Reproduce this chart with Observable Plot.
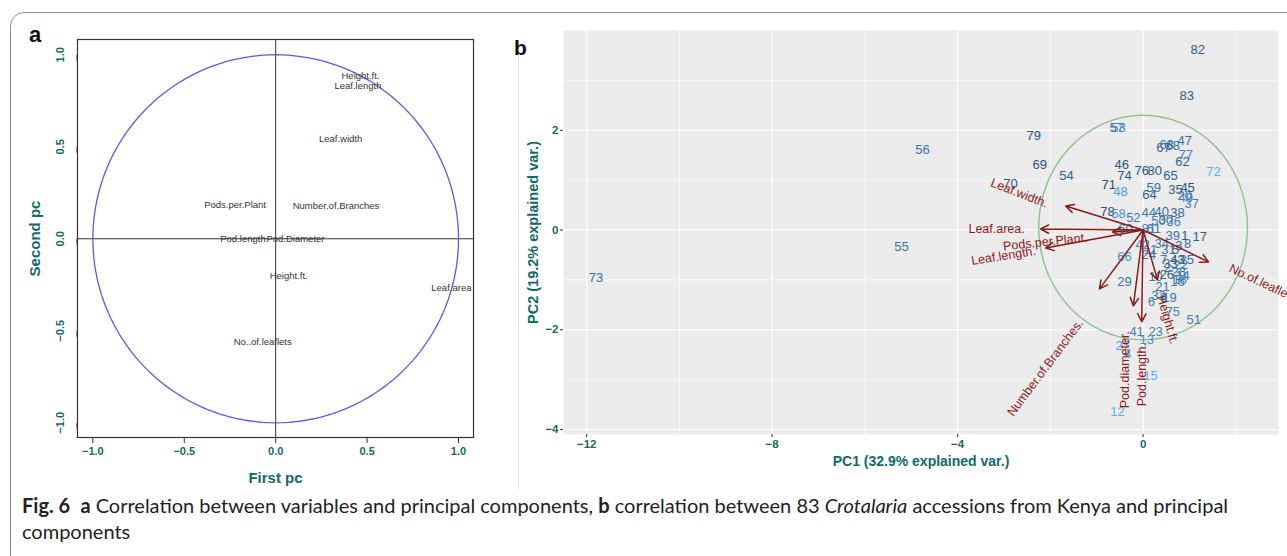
<!DOCTYPE html>
<html><head><meta charset="utf-8">
<script src="https://cdn.jsdelivr.net/npm/d3@7"></script>
<script src="https://cdn.jsdelivr.net/npm/@observablehq/plot@0.6"></script>
<style>
html,body{margin:0;padding:0;background:#fff;}
body{width:1287px;height:556px;overflow:hidden;position:relative;font-family:"Liberation Sans",Arial,sans-serif;}
#border{position:absolute;left:10px;top:12px;width:1400px;height:700px;border:1.5px solid #8c8c8c;border-radius:14px;box-sizing:border-box;}
#pa{position:absolute;left:0;top:0;}
#pb{position:absolute;left:500px;top:0;}
.tag{position:absolute;font-weight:bold;color:#111;line-height:1;}
#caption{position:absolute;left:22px;top:494px;color:#222;font-family:"Lato","Noto Sans",sans-serif;white-space:nowrap;}
#caption div{height:26px;line-height:22px;}
#sep{position:absolute;left:518px;top:40px;width:1px;height:450px;background:#e3e9e9;}
</style></head><body>
<div id="border"></div>
<div id="sep"></div>
<div id="pa"></div>
<div id="pb"></div>
<div class="tag" style="left:29px;top:24px;font-size:22px;">a</div>
<div class="tag" style="left:514px;top:37px;font-size:21px;">b</div>
<div id="caption"><div><span id="l1"><b>Fig. 6</b>&nbsp;&nbsp;<b>a</b> Correlation between variables and principal components, <b>b</b> correlation between 83 <i>Crotalaria</i> accessions from Kenya and principal</span></div><div>components</div></div>
<script>
// ---------- Panel a: correlation circle ----------
const corrVars = ["Height.ft.","Leaf.length","Leaf.width","Pods.per.Plant","Number.of.Branches","Pod.length","Pod.Diameter","Height.ft.","Leaf.area","No..of.leaflets"];
const corrPC1 = [0.464,0.450,0.355,-0.222,0.330,-0.179,0.108,0.071,0.961,-0.071];
const corrPC2 = [0.884,0.833,0.545,0.183,0.178,0.000,0.000,-0.201,-0.266,-0.562];
const corrTicks = [-1,-0.5,0,0.5,1];

// ---------- Panel b: biplot ----------
const accLabels = ["82","83","56","55","73","79","69","54","70","57","53","46","74","76","80","65","71","48","59","64","35","45","20","37","67","63","68","47","77","62","72","78","58","52","44","40","38","50","36","60","81","39","1","17","42","34","3","8","24","66","7","43","25","2","29","10","26","28","14","16","21","6","32","19","75","51","41","23","13","27","15","12","4","11","18","30","31","33","49","61","9","5","22"];
const accPC1 = [1.18,0.94,-4.76,-5.21,-11.80,-2.36,-2.23,-1.65,-2.86,-0.57,-0.53,-0.46,-0.40,-0.03,0.25,0.59,-0.74,-0.49,0.23,0.14,0.70,0.96,0.90,1.05,0.44,0.51,0.64,0.90,0.92,0.85,1.52,-0.77,-0.53,-0.21,0.12,0.40,0.74,0.33,0.66,-0.38,0.12,0.64,0.90,1.22,-0.01,0.40,0.77,0.96,0.12,-0.40,0.44,0.74,0.94,0.53,-0.40,0.27,0.51,0.77,0.85,0.74,0.42,0.18,0.33,0.57,0.64,1.09,-0.14,0.27,0.08,-0.44,0.16,-0.55,-0.33,0.16,0.79,0.49,0.55,0.59,0.92,0.23,0.44,0.70,0.81];
const accPC2 = [3.62,2.70,1.60,-0.34,-0.96,1.88,1.30,1.08,0.92,2.04,2.04,1.30,1.08,1.18,1.18,1.08,0.90,0.76,0.84,0.70,0.80,0.84,0.68,0.52,1.64,1.70,1.68,1.78,1.50,1.36,1.16,0.36,0.32,0.24,0.34,0.36,0.34,0.18,0.16,0.02,0.02,-0.12,-0.12,-0.14,-0.30,-0.28,-0.32,-0.28,-0.50,-0.54,-0.60,-0.60,-0.60,-0.76,-1.04,-0.94,-0.90,-0.84,-0.92,-1.04,-1.14,-1.44,-1.32,-1.36,-1.64,-1.80,-2.04,-2.04,-2.20,-2.32,-2.92,-3.64,-2.48,-0.40,-1.00,0.20,-0.40,-0.68,0.64,0.02,-1.36,-0.40,-0.70];
const accShade = [0.35,0.35,0.5,0.5,0.45,0.25,0.25,0.35,0.3,0.55,0.6,0.25,0.3,0.25,0.3,0.35,0.2,0.85,0.5,0.35,0.35,0.25,0.5,0.65,0.4,0.5,0.45,0.45,0.6,0.35,1.0,0.25,0.75,0.55,0.55,0.45,0.4,0.6,0.6,0.5,0.6,0.55,0.3,0.35,0.65,0.55,0.4,0.5,0.5,0.75,0.5,0.15,0.45,0.5,0.5,0.5,0.4,0.45,0.55,0.6,0.55,0.6,0.55,0.5,0.65,0.6,0.6,0.6,0.75,0.85,1.0,1.0,0.9,0.5,0.6,0.5,0.5,0.4,0.6,0.55,0.5,0.4,0.6];

const varNames = ["Leaf.width.","Leaf.area.","Leaf.length.","Pods.per.Plant.","No.of.leaflets.","Number.of.Branches.","Pod.diameter.","Pod.length.","Height.ft."];
const varPC1 = [-1.67,-2.21,-2.10,-0.66,1.41,-0.94,-0.21,-0.03,0.31];
const varPC2 = [0.48,0.02,-0.36,-0.04,-0.64,-1.18,-1.52,-1.84,-1.00];
const varLabelPC1 = [-2.67,-3.16,-3.01,-2.11,2.62,-2.11,-0.40,-0.03,0.53];
const varLabelPC2 = [0.74,0.02,-0.52,-0.24,-1.08,-2.76,-2.80,-2.90,-1.80];
const varLabelAngle = [21,0,-9,-6,25,-53,-90,-90,74];

const pcXTicks = [-12,-8,-4,0];
const pcXMinor = [-10,-6,-2,2];
const pcYTicks = [-4,-2,0,2];
const pcYMinor = [-3,-1,1,3];
const ellipseCenter = [0, 0.05];
const ellipseRadius = 2.25;

const teal = "#106a67";
const darkred = "#8B1A1A";

// build tables
const corrData = corrVars.map((n,i)=>({name:n, pc1:corrPC1[i], pc2:corrPC2[i]}));
const unitCircle = d3.range(0, 361, 2).map(a => ({x: Math.cos(a*Math.PI/180), y: Math.sin(a*Math.PI/180)}));
const accData = accLabels.map((l,i)=>({label:l, pc1:accPC1[i], pc2:accPC2[i], shade:accShade[i]}));
const varData = varNames.map((n,i)=>({name:n, x:varPC1[i], y:varPC2[i], lx:varLabelPC1[i], ly:varLabelPC2[i], angle:varLabelAngle[i]}));
const ring = d3.range(0, 361, 2).map(a => ({x: ellipseCenter[0] + ellipseRadius*Math.cos(a*Math.PI/180), y: ellipseCenter[1] + ellipseRadius*Math.sin(a*Math.PI/180)}));

const pa = Plot.plot({
  width: 520, height: 490,
  marginLeft: 77, marginTop: 39, marginRight: 47, marginBottom: 53,
  x: {domain: [-1.084, 1.082]},
  y: {domain: [-1.08, 1.083]},
  style: {fontFamily: "'Liberation Sans', Arial, sans-serif", background: "transparent", overflow: "visible"},
  marks: [
    Plot.ruleX([0], {stroke: "#333", strokeWidth: 1}),
    Plot.ruleY([0], {stroke: "#333", strokeWidth: 1}),
    Plot.line(unitCircle, {x: "x", y: "y", stroke: "#5a5af0", strokeWidth: 1.3}),
    Plot.text(corrData, {x: "pc1", y: "pc2", text: "name", fontSize: 9.5, fill: "#333"}),
    Plot.frame({stroke: "#333", strokeWidth: 1.2}),
    Plot.axisX({ticks: corrTicks, tickFormat: d3.format(".1f"), tickSize: 6, tickPadding: 4, fontSize: 11, fontWeight: "bold", fill: teal, stroke: "#333", label: null}),
    Plot.axisY({ticks: corrTicks, tickFormat: d3.format(".1f"), tickSize: 6, tickPadding: 11, fontSize: 11, fontWeight: "bold", fill: teal, stroke: "#333", rotate: -90, textAnchor: "middle", label: null}),
    Plot.text(["Second pc"], {frameAnchor: "left", dx: -42, rotate: -90, textAnchor: "middle", lineAnchor: "middle", fontSize: 15, fontWeight: "bold", fill: teal}),
    Plot.text(["First pc"], {frameAnchor: "bottom", dy: 41, lineAnchor: "middle", fontSize: 15, fontWeight: "bold", fill: teal})
  ]
});
document.getElementById("pa").appendChild(pa);

const pb = Plot.plot({
  width: 787, height: 490,
  marginLeft: 63, marginRight: 9, marginTop: 30, marginBottom: 56,
  x: {domain: [-12.5, 2.92]},
  y: {domain: [-4.1, 4.0]},
  color: {type: "linear", domain: [0, 1], range: ["#1b3452", "#56B1F7"]},
  style: {fontFamily: "'Liberation Sans', Arial, sans-serif", background: "transparent", overflow: "visible"},
  marks: [
    Plot.frame({fill: "#ebebeb", stroke: null}),
    Plot.ruleX(pcXMinor, {stroke: "#fff", strokeWidth: 0.6}),
    Plot.ruleY(pcYMinor, {stroke: "#fff", strokeWidth: 0.6}),
    Plot.ruleX(pcXTicks, {stroke: "#fff", strokeWidth: 1.2}),
    Plot.ruleY(pcYTicks, {stroke: "#fff", strokeWidth: 1.2}),
    Plot.line(ring, {x: "x", y: "y", stroke: "#8fbf8f", strokeWidth: 1.4}),
    Plot.text(accData, {x: "pc1", y: "pc2", text: "label", fill: "shade", fontSize: 13}),
    Plot.arrow(varData, {x1: () => 0, y1: () => 0, x2: "x", y2: "y", stroke: darkred, strokeWidth: 1.5, headLength: 9, headAngle: 55}),
    Plot.text(varData, {x: "lx", y: "ly", text: "name", rotate: "angle", fill: darkred, fontSize: 12.5}),
    Plot.axisX({ticks: pcXTicks, tickSize: 3, tickPadding: 2, fontSize: 11.5, fontWeight: "bold", fill: teal, stroke: "#333", label: null}),
    Plot.axisY({ticks: pcYTicks, tickSize: 3, tickPadding: 2, fontSize: 11.5, fontWeight: "bold", fill: teal, stroke: "#333", label: null}),
    Plot.text(["PC1 (32.9% explained var.)"], {frameAnchor: "bottom", dy: 27, lineAnchor: "middle", fontSize: 14, fontWeight: "bold", fill: teal}),
    Plot.text(["PC2 (19.2% explained var.)"], {frameAnchor: "left", dx: -30, rotate: -90, textAnchor: "middle", lineAnchor: "middle", fontSize: 14.5, fontWeight: "bold", fill: teal})
  ]
});
document.getElementById("pb").appendChild(pb);

// fit caption line width
const cap = document.getElementById("caption");
let fs = 16; cap.style.fontSize = fs + "px";
const w = document.getElementById("l1").getBoundingClientRect().width;
fs = fs * 1206 / w; cap.style.fontSize = fs.toFixed(2) + "px";
</script>
</body></html>
